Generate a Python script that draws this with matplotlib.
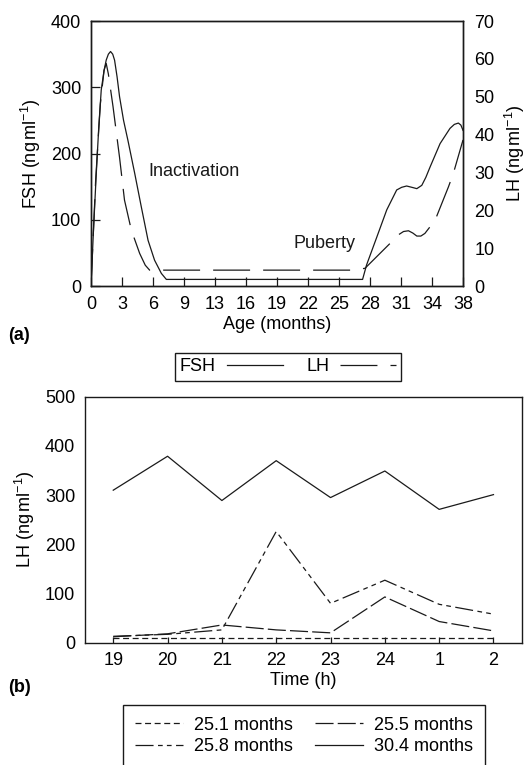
import matplotlib
matplotlib.use('Agg')
import matplotlib.pyplot as plt
from matplotlib.lines import Line2D

plt.rcParams['font.family'] = ['Liberation Sans', 'DejaVu Sans']
plt.rcParams['mathtext.fontset'] = 'custom'
plt.rcParams['mathtext.rm'] = 'Liberation Sans'
plt.rcParams['mathtext.it'] = 'Liberation Sans:italic'
plt.rcParams['mathtext.bf'] = 'Liberation Sans:bold'
plt.rcParams['lines.scale_dashes'] = False
plt.rcParams['font.size'] = 13

INK = '#1a1a1a'

# ---------------- data: panel (a) ----------------
age_labels = ['0', '3', '6', '9', '13', '16', '19', '22', '25', '28', '31', '34', '38']
# x given as position along the (evenly spaced) age tick index
fsh_x = [0, 0.08, 0.17, 0.25, 0.33, 0.42, 0.49, 0.56, 0.63, 0.7, 0.76, 0.84, 0.92,
         1.05, 1.19, 1.41, 1.62, 1.84, 2.05, 2.27, 2.43,
         8.76, 8.89, 9.22, 9.54, 9.86, 10.02, 10.18, 10.35, 10.51, 10.67, 10.8,
         10.94, 11.26, 11.58, 11.72, 11.85, 11.93, 12.0]
fsh_y = [0, 85, 170, 240, 296, 325, 341, 350, 354, 350, 341, 316, 286,
         250, 220, 170, 120, 69, 39, 19, 10,
         10, 32, 74, 115, 145, 149, 151, 149, 147, 152, 164,
         180, 215, 238, 244, 246, 243, 235]
lh_x = [0, 0.15, 0.3, 0.42, 0.49, 0.56, 0.71, 0.92, 1.08, 1.3, 1.57, 1.75, 1.89,
        8.52, 8.84, 9.7, 9.91, 10.08, 10.24, 10.38, 10.51, 10.64, 10.77, 10.94,
        11.1, 11.53, 11.69, 12.0]
lh_y = [0, 28, 48, 57, 58.8, 56, 47.4, 34, 22.7, 14.8, 8.6, 5.5, 4.2,
        4.2, 4.7, 11.7, 13.5, 14.4, 14.6, 14.0, 13.2, 13.2, 13.9, 15.7,
        17.4, 26.2, 29.8, 38.6]
fsh_ticks = [0, 100, 200, 300, 400]
lh_ticks = [0, 10, 20, 30, 40, 50, 60, 70]

# ---------------- data: panel (b) ----------------
time_labels = ['19', '20', '21', '22', '23', '24', '1', '2']
lh_25_1 = [10, 10, 10, 10, 10, 10, 10, 10]
lh_25_5 = [12, 18, 36, 26, 20, 93, 43, 24]
lh_25_8 = [13, 17, 26, 226, 80, 127, 78, 58]
lh_30_4 = [310, 379, 289, 370, 295, 349, 271, 301]
series_labels = ['25.1 months', '25.5 months', '25.8 months', '30.4 months']
lh_b_ticks = [0, 100, 200, 300, 400, 500]

fig = plt.figure(figsize=(5.27, 7.65), dpi=100)

# ---------------- panel (a) ----------------
ax1 = fig.add_axes([0.1727, 0.6261, 0.7059, 0.3464])
ax2 = ax1.twinx()
lw = 0.9
lh_dash = (0, (26.6, 9.4))
ax1.plot(fsh_x, fsh_y, color=INK, lw=lw, solid_joinstyle='round')
ax2.plot(lh_x, lh_y, color=INK, lw=lw, linestyle=lh_dash)
ax1.set_xlim(0, 12)
ax1.set_ylim(0, 400)
ax2.set_ylim(0, 70)
ax1.set_xticks(range(len(age_labels)))
ax1.set_xticklabels(age_labels)
ax1.set_yticks(fsh_ticks)
ax2.set_yticks(lh_ticks)
ax1.tick_params(axis='both', direction='in', length=6.5, width=0.9, color=INK,
                pad=7, labelsize=13)
ax2.tick_params(axis='y', length=0, pad=8, labelsize=13)
for a in (ax1, ax2):
    for s in a.spines.values():
        s.set_linewidth(1.0)
        s.set_color(INK)
ax1.set_ylabel(r'FSH (ng$\,$ml$^{-1}$)', fontsize=13, labelpad=6)
ax2.set_ylabel(r'LH (ng$\,$ml$^{-1}$)', fontsize=13, labelpad=6)
ax1.set_xlabel('Age (months)', fontsize=13, labelpad=2)
ax1.text(0.153, 0.431, 'Inactivation', transform=ax1.transAxes, fontsize=13,
         ha='left', va='center', color=INK)
ax1.text(0.543, 0.162, 'Puberty', transform=ax1.transAxes, fontsize=13,
         ha='left', va='center', color=INK)
fig.text(8 / 527, 1 - 335 / 765, '(a)', fontsize=13, fontweight='bold',
         ha='left', va='center')

leg1 = fig.legend(handles=[Line2D([], [], color=INK, lw=lw),
                           Line2D([], [], color=INK, lw=lw, linestyle=lh_dash)],
                  labels=['FSH', 'LH'], markerfirst=False, ncol=2,
                  loc='center', bbox_to_anchor=(0.5465, 0.5205),
                  handlelength=3.1, handletextpad=0.6, columnspacing=1.3,
                  fontsize=13, fancybox=False, borderpad=0.3,
                  borderaxespad=0, framealpha=1)
leg1.get_frame().set_edgecolor(INK)
leg1.get_frame().set_linewidth(1.0)

# ---------------- panel (b) ----------------
ax3 = fig.add_axes([0.1613, 0.1599, 0.8287, 0.3215])
ls_251 = (0, (4.3, 2.6))
ls_255 = (0, (13, 3))
ls_258 = (0, (13, 3.2, 3.4, 3, 3.4, 3.2))
xs = range(len(time_labels))
h251, = ax3.plot(xs, lh_25_1, color=INK, lw=lw, linestyle=ls_251)
h255, = ax3.plot(xs, lh_25_5, color=INK, lw=lw, linestyle=ls_255)
h258, = ax3.plot(xs, lh_25_8, color=INK, lw=lw, linestyle=ls_258)
h304, = ax3.plot(xs, lh_30_4, color=INK, lw=lw)
ax3.set_xlim(-0.52, 7.52)
ax3.set_ylim(0, 500)
ax3.set_xticks(list(xs))
ax3.set_xticklabels(time_labels)
ax3.set_yticks(lh_b_ticks)
ax3.tick_params(axis='x', direction='in', length=4.5, width=0.9, color=INK,
                pad=7, labelsize=13)
ax3.tick_params(axis='y', length=0, pad=7, labelsize=13)
for s in ax3.spines.values():
    s.set_linewidth(1.0)
    s.set_color(INK)
ax3.set_ylabel(r'LH (ng$\,$ml$^{-1}$)', fontsize=13, labelpad=6)
ax3.set_xlabel('Time (h)', fontsize=13, labelpad=2)
fig.text(8 / 527, 1 - 688 / 765, '(b)', fontsize=13, fontweight='bold',
         ha='left', va='center')

leg2 = fig.legend(handles=[h251, h258, h255, h304],
                  labels=[series_labels[0], series_labels[2],
                          series_labels[1], series_labels[3]],
                  ncol=2, loc='upper center', bbox_to_anchor=(0.5766, 0.0784),
                  handlelength=2.7, handletextpad=0.6, columnspacing=1.2,
                  labelspacing=0.25, fontsize=13, fancybox=False,
                  borderpad=0.65, borderaxespad=0, framealpha=1)
leg2.get_frame().set_edgecolor(INK)
leg2.get_frame().set_linewidth(1.0)

fig.savefig('out.png', dpi=100)
